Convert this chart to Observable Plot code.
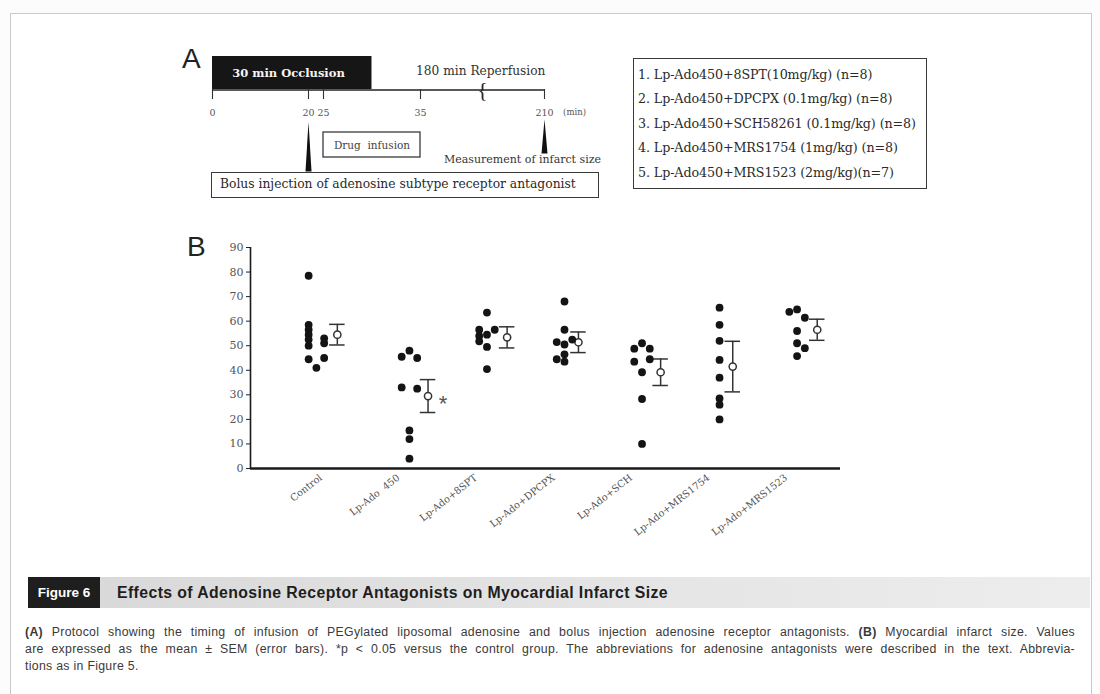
<!DOCTYPE html>
<html><head><meta charset="utf-8">
<script src="https://cdn.jsdelivr.net/npm/d3@7"></script>
<script src="https://cdn.jsdelivr.net/npm/@observablehq/plot@0.6"></script>
<style>
body{margin:0;background:#fff;}
#page{position:relative;width:1100px;height:694px;overflow:hidden;background:#fcfcfc;color:#333;}
.abs{position:absolute;}
#frame{left:10px;top:13px;width:1080px;height:720px;border:1.5px solid #c9c9c9;background:#fff;}
.letter{font-family:"Liberation Sans",Arial,sans-serif;font-size:28px;color:#222;}
.box{border:1.4px solid #3a3a3a;box-sizing:border-box;font-family:"DejaVu Serif",serif;color:#2a2a2a;}
#legend{left:633px;top:58px;width:294px;height:131px;padding:4px 0 0 4px;font-size:12.7px;line-height:24.4px;white-space:nowrap;letter-spacing:-0.1px;}
#bolus{left:211px;top:172px;width:388px;height:26px;font-size:12.3px;line-height:23px;padding-left:8px;white-space:nowrap;}
#figbox{left:28px;top:577px;width:72px;height:31px;background:#1e1e1e;color:#fff;font-family:"Liberation Sans",Arial,sans-serif;font-weight:bold;font-size:13.5px;line-height:31px;text-align:center;}
#band{left:100px;top:577px;width:990px;height:31px;background:linear-gradient(90deg,#d9d9d9,#e6e6e6 60%,#ededed);font-family:"Liberation Sans",Arial,sans-serif;font-weight:bold;font-size:15.8px;letter-spacing:0.4px;line-height:31px;color:#1e1e1e;padding-left:17px;box-sizing:border-box;}
#caption{left:25px;top:624px;width:1050px;font-family:"Liberation Sans",Arial,sans-serif;font-size:12.3px;letter-spacing:0.3px;line-height:17px;color:#3a3a3a;}
#caption div{text-align:justify;text-align-last:justify;white-space:nowrap;}
#caption div.last{text-align-last:left;}
</style></head>
<body><div id="page">
<div id="frame" class="abs"></div>
<div id="plotA" class="abs" style="left:0;top:0"></div>
<div id="plotB" class="abs" style="left:0;top:225px"></div>
<div class="abs letter" style="left:182px;top:43px">A</div>
<div class="abs letter" style="left:187px;top:231px">B</div>
<div id="legend" class="abs box"></div>
<div id="bolus" class="abs box">Bolus injection of adenosine subtype receptor antagonist</div>
<div id="figbox" class="abs">Figure 6</div>
<div id="band" class="abs">Effects of Adenosine Receptor Antagonists on Myocardial Infarct Size</div>
<div id="caption" class="abs">
<div><b>(A)</b> Protocol showing the timing of infusion of PEGylated liposomal adenosine and bolus injection adenosine receptor antagonists. <b>(B)</b> Myocardial infarct size. Values</div>
<div>are expressed as the mean ± SEM (error bars). *p &lt; 0.05 versus the control group. The abbreviations for adenosine antagonists were described in the text. Abbrevia-</div>
<div class="last">tions as in Figure 5.</div>
</div>
</div>
<script>
// ---------- Panel B data ----------
const groups = ["Control", "Lp-Ado  450", "Lp-Ado+8SPT", "Lp-Ado+DPCPX", "Lp-Ado+SCH", "Lp-Ado+MRS1754", "Lp-Ado+MRS1523"];
const controlVals = [78.5, 58.5, 56.5, 54.5, 52.5, 50, 44.5, 41, 53, 51, 45];
const controlCols = [-3, -3, -3, -3, -3, -3, -3, -2, -1, -1, -1];
const lpAdoVals = [45.5, 48, 45, 33, 32.5, 15.5, 12, 4];
const lpAdoCols = [-1, 0, 1, -1, 1, 0, 0, 0];
const spt8Vals = [56.5, 54, 51.8, 63.5, 54.5, 49.5, 40.5, 56.5];
const spt8Cols = [-1, -1, -1, 0, 0, 0, 0, 1];
const dpcpxVals = [68, 56.5, 51.5, 50.5, 52.5, 46.5, 44.5, 43.5];
const dpcpxCols = [0, 0, -1, 0, 1, 0, -1, 0];
const schVals = [51, 48.8, 48.8, 43.5, 44.5, 39.2, 28.3, 10];
const schCols = [0, -1, 1, -1, 1, 0, 0, 0];
const mrs1754Vals = [65.5, 58.5, 52, 44.2, 37, 28.5, 26, 20];
const mrs1754Cols = [0, 0, 0, 0, 0, 0, 0, 0];
const mrs1523Vals = [63.8, 64.8, 61.4, 56, 51, 49, 45.8];
const mrs1523Cols = [-1, 0, 1, 0, 0, 1, 0];
const means = [54.5, 29.5, 53.4, 51.4, 39.2, 41.5, 56.5];
const sems = [4.2, 6.7, 4.3, 4.2, 5.4, 10.3, 4.3];
const meanCols = [0.7, 2.4, 2.6, 1.8, 2.4, 1.7, 2.6];
const significant = [false, true, false, false, false, false, false];
const yTicks = [0, 10, 20, 30, 40, 50, 60, 70, 80, 90];

// ---------- Panel A data ----------
const timeTicks = [0, 20, 25, 35, 210];
const occlusion = [0, 30];
const infusion = [25, 35];
const bolusAt = 20;
const measureAt = 210;
const reperfusionLabel = "180 min Reperfusion";
const legendLines = [
  "1. Lp-Ado450+8SPT(10mg/kg) (n=8)",
  "2. Lp-Ado450+DPCPX (0.1mg/kg) (n=8)",
  "3. Lp-Ado450+SCH58261 (0.1mg/kg) (n=8)",
  "4. Lp-Ado450+MRS1754 (1mg/kg) (n=8)",
  "5. Lp-Ado450+MRS1523 (2mg/kg)(n=7)"
];

document.getElementById("legend").innerHTML = legendLines.map(l => `<div>${l}</div>`).join("");

// ---------- Panel A ----------
function wedge(h, w) {
  return {draw(ctx) { ctx.moveTo(0, -h / 2); ctx.lineTo(w / 2, h / 2); ctx.lineTo(-w / 2, h / 2); ctx.closePath(); }};
}
const serif = "DejaVu Serif";
const plotA = Plot.plot({
  width: 1100, height: 210, margin: 0,
  x: {type: "linear", domain: timeTicks, range: [212, 308, 323, 420, 544], axis: null},
  y: {type: "identity", axis: null},
  style: {background: "transparent", fontFamily: serif, color: "#333"},
  marks: [
    Plot.rect([occlusion], {x1: d => d[0], x2: d => d[1], y1: 56, y2: 89, fill: "#161616"}),
    Plot.text([occlusion], {x: d => (d[0] + d[1]) / 2, y: 73, dx: 4, text: () => "30 min Occlusion", fill: "#f4f4f4", fontWeight: "bold", fontSize: 11.5, fontFamily: serif}),
    Plot.ruleY([89.5], {x1: 0, x2: 210, stroke: "#222", strokeWidth: 1.6}),
    Plot.ruleX(timeTicks, {x: d => d, y1: 89, y2: 99, stroke: "#333", strokeWidth: 1.1}),
    Plot.text(timeTicks, {x: d => d, y: 112, text: d => String(d), fontSize: 9.5, fill: "#555"}),
    Plot.text(["(min)"], {x: 210, y: 112, dx: 30, text: d => d, fontSize: 8.5, fill: "#555"}),
    Plot.text([reperfusionLabel], {x: 120, y: 71, text: d => d, fontSize: 12.2, fill: "#333"}),
    Plot.text(["{"], {x: 122.5, y: 90, text: d => d, fontSize: 21, fill: "#222", fontFamily: "Liberation Serif"}),
    Plot.rect([infusion], {x1: d => d[0], x2: d => d[1], y1: 132, y2: 157, fill: "none", stroke: "#3a3a3a", strokeWidth: 1.3}),
    Plot.text([infusion], {x: d => (d[0] + d[1]) / 2, y: 145, text: () => "Drug  infusion", fontSize: 10.5, fill: "#444"}),
    Plot.dot([bolusAt], {x: d => d, y: 146, symbol: wedge(50, 6), fill: "#111", stroke: "none", r: 5}),
    Plot.dot([measureAt], {x: d => d, y: 136, symbol: wedge(34, 6), fill: "#111", stroke: "none", r: 5}),
    Plot.text(["Measurement of infarct size"], {x: measureAt, y: 159, dx: -22, text: d => d, fontSize: 11, fill: "#333"})
  ]
});
document.getElementById("plotA").append(plotA);

// ---------- Panel B ----------
const groupVals = [controlVals, lpAdoVals, spt8Vals, dpcpxVals, schVals, mrs1754Vals, mrs1523Vals];
const groupCols = [controlCols, lpAdoCols, spt8Cols, dpcpxCols, schCols, mrs1754Cols, mrs1523Cols];
const colW = 0.1;
const points = groupVals.flatMap((vals, i) => vals.map((v, j) => ({x: i + groupCols[i][j] * colW, y: v})));
const summary = groups.map((g, i) => ({x: i + meanCols[i] * colW, mean: means[i], lo: means[i] - sems[i], hi: means[i] + sems[i], sig: significant[i]}));
const xDom = [-1.05, 6.56];
const plotB = Plot.plot({
  width: 1100, height: 330, marginLeft: 250, marginRight: 260, marginTop: 22, marginBottom: 87,
  x: {domain: xDom}, y: {domain: [0, 90]},
  style: {background: "transparent", fontFamily: serif, color: "#555"},
  marks: [
    Plot.axisY({ticks: yTicks, tickSize: 4, tickPadding: 3, label: null, fontSize: 11, stroke: "#222"}),
    Plot.axisX({ticks: d3.range(groups.length), tickFormat: i => groups[i], tickSize: 0, tickRotate: -38, tickPadding: 2, label: null, fontSize: 9.8, dx: -11, dy: 6}),
    Plot.ruleX([xDom[0]], {y1: 0, y2: 90, stroke: "#1a1a1a", strokeWidth: 1.6}),
    Plot.ruleY([0], {x1: xDom[0], x2: xDom[1], stroke: "#1a1a1a", strokeWidth: 2.6}),
    Plot.ruleX(summary, {x: "x", y1: "lo", y2: "hi", stroke: "#333", strokeWidth: 1.5}),
    Plot.ruleY(summary, {y: "hi", x1: d => d.x - colW, x2: d => d.x + colW, stroke: "#333", strokeWidth: 1.5}),
    Plot.ruleY(summary, {y: "lo", x1: d => d.x - colW, x2: d => d.x + colW, stroke: "#333", strokeWidth: 1.5}),
    Plot.dot(summary, {x: "x", y: "mean", r: 3.6, fill: "white", stroke: "#333", strokeWidth: 1.5}),
    Plot.dot(points, {x: "x", y: "y", r: 3.9, fill: "#141414", stroke: "none"}),
    Plot.text(summary.filter(d => d.sig), {x: "x", y: "mean", text: () => "*", dx: 15, dy: 8, fontSize: 22, fill: "#555", fontFamily: "Liberation Sans"})
  ]
});
document.getElementById("plotB").append(plotB);
</script>
</body></html>
